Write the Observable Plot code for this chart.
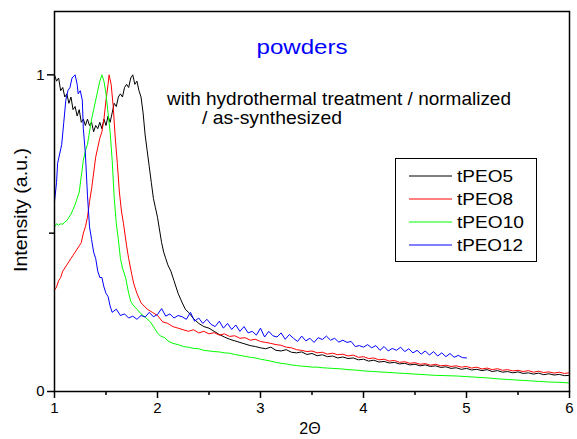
<!DOCTYPE html>
<html><head><meta charset="utf-8">
<script src="https://cdn.jsdelivr.net/npm/d3@7"></script>
<script src="https://cdn.jsdelivr.net/npm/@observablehq/plot@0.6"></script>
<style>body{margin:0;background:#fff} svg{font-family:Arial,"Liberation Sans",sans-serif}</style>
</head><body><div id="chart"></div>
<script>
const seriesNames = ["tPEO5", "tPEO8", "tPEO10", "tPEO12"];
const seriesColors = ["#000000", "#ff0000", "#00ff00", "#0000ff"];

const tPEO5 = [[1.00,1.00],[1.02,0.98],[1.04,0.99],[1.06,0.95],[1.08,0.96],[1.10,0.93],[1.12,0.94],[1.14,0.91],[1.16,0.93],[1.18,0.89],[1.20,0.90],[1.22,0.87],[1.24,0.89],[1.26,0.85],[1.28,0.86],[1.30,0.84],[1.32,0.86],[1.34,0.84],[1.36,0.85],[1.38,0.82],[1.40,0.84],[1.42,0.83],[1.44,0.85],[1.46,0.83],[1.48,0.86],[1.50,0.84],[1.52,0.87],[1.54,0.85],[1.56,0.88],[1.58,0.91],[1.60,0.90],[1.62,0.93],[1.64,0.94],[1.66,0.93],[1.68,0.96],[1.70,0.97],[1.72,0.96],[1.74,0.99],[1.76,1.00],[1.78,0.97],[1.80,0.98],[1.82,0.95],[1.84,0.93],[1.86,0.88],[1.88,0.81],[1.90,0.76],[1.92,0.71],[1.94,0.66],[1.96,0.61],[1.98,0.58],[2.00,0.55],[2.02,0.51],[2.04,0.47],[2.06,0.44],[2.08,0.42],[2.10,0.40],[2.13,0.38],[2.16,0.35],[2.20,0.31],[2.24,0.28],[2.27,0.26],[2.30,0.25],[2.35,0.23],[2.40,0.215],[2.45,0.205],[2.50,0.20],[2.55,0.19],[2.60,0.18],[2.65,0.172],[2.70,0.165],[2.75,0.16],[2.80,0.155],[2.85,0.15],[2.90,0.145],[2.95,0.142],[3.00,0.138],[3.05,0.135],[3.10,0.14],[3.15,0.13],[3.20,0.128],[3.25,0.132],[3.30,0.124],[3.35,0.122],[3.40,0.125],[3.45,0.117],[3.50,0.12],[3.55,0.113],[3.60,0.116],[3.65,0.11],[3.70,0.112],[3.75,0.106],[3.80,0.109],[3.85,0.104],[3.90,0.106],[3.95,0.10],[4.00,0.102],[4.05,0.096],[4.10,0.099],[4.15,0.093],[4.20,0.095],[4.25,0.09],[4.30,0.092],[4.35,0.087],[4.40,0.089],[4.45,0.084],[4.50,0.086],[4.55,0.081],[4.60,0.084],[4.65,0.079],[4.70,0.081],[4.75,0.076],[4.80,0.078],[4.85,0.073],[4.90,0.075],[4.95,0.07],[5.00,0.073],[5.05,0.068],[5.10,0.07],[5.15,0.066],[5.20,0.069],[5.25,0.063],[5.30,0.066],[5.35,0.061],[5.40,0.063],[5.45,0.059],[5.50,0.062],[5.55,0.057],[5.60,0.059],[5.65,0.055],[5.70,0.058],[5.75,0.053],[5.80,0.056],[5.85,0.052],[5.90,0.054],[5.95,0.05],[6.00,0.051]];

const tPEO8 = [[1.00,0.32],[1.02,0.33],[1.04,0.35],[1.06,0.36],[1.08,0.38],[1.10,0.39],[1.12,0.40],[1.14,0.41],[1.16,0.42],[1.18,0.43],[1.20,0.44],[1.22,0.45],[1.24,0.46],[1.26,0.47],[1.28,0.50],[1.30,0.52],[1.32,0.55],[1.34,0.60],[1.36,0.64],[1.38,0.69],[1.40,0.74],[1.42,0.77],[1.44,0.80],[1.46,0.82],[1.48,0.86],[1.50,0.92],[1.52,0.97],[1.53,1.00],[1.55,0.97],[1.57,0.90],[1.59,0.80],[1.61,0.72],[1.63,0.63],[1.65,0.57],[1.67,0.53],[1.70,0.46],[1.72,0.42],[1.75,0.37],[1.77,0.34],[1.80,0.31],[1.84,0.28],[1.87,0.27],[1.90,0.26],[1.95,0.25],[2.00,0.24],[2.05,0.22],[2.10,0.215],[2.15,0.205],[2.20,0.20],[2.25,0.195],[2.30,0.19],[2.35,0.195],[2.40,0.185],[2.45,0.19],[2.50,0.182],[2.55,0.186],[2.60,0.178],[2.65,0.182],[2.70,0.174],[2.75,0.176],[2.80,0.168],[2.85,0.17],[2.90,0.162],[2.95,0.165],[3.00,0.158],[3.05,0.155],[3.10,0.152],[3.15,0.148],[3.20,0.146],[3.25,0.14],[3.30,0.138],[3.35,0.132],[3.40,0.13],[3.45,0.126],[3.50,0.128],[3.55,0.122],[3.60,0.124],[3.65,0.118],[3.70,0.121],[3.75,0.116],[3.80,0.118],[3.85,0.112],[3.90,0.115],[3.95,0.108],[4.00,0.11],[4.05,0.104],[4.10,0.106],[4.15,0.10],[4.20,0.102],[4.25,0.096],[4.30,0.098],[4.35,0.092],[4.40,0.094],[4.45,0.089],[4.50,0.091],[4.55,0.086],[4.60,0.088],[4.65,0.083],[4.70,0.086],[4.75,0.081],[4.80,0.083],[4.85,0.079],[4.90,0.081],[4.95,0.077],[5.00,0.079],[5.05,0.074],[5.10,0.077],[5.15,0.071],[5.20,0.074],[5.25,0.069],[5.30,0.072],[5.35,0.067],[5.40,0.069],[5.45,0.065],[5.50,0.067],[5.55,0.063],[5.60,0.066],[5.65,0.061],[5.70,0.064],[5.75,0.06],[5.80,0.062],[5.85,0.058],[5.90,0.061],[5.95,0.057],[6.00,0.059]];

const tPEO10 = [[1.00,0.52],[1.02,0.53],[1.04,0.525],[1.06,0.53],[1.08,0.528],[1.10,0.535],[1.12,0.54],[1.14,0.55],[1.16,0.56],[1.18,0.575],[1.20,0.59],[1.22,0.61],[1.24,0.63],[1.26,0.68],[1.28,0.73],[1.30,0.76],[1.32,0.78],[1.34,0.82],[1.36,0.86],[1.38,0.89],[1.40,0.92],[1.42,0.95],[1.44,0.98],[1.46,1.00],[1.48,0.98],[1.50,0.94],[1.52,0.88],[1.54,0.82],[1.56,0.73],[1.58,0.61],[1.60,0.53],[1.62,0.48],[1.64,0.42],[1.66,0.39],[1.69,0.36],[1.72,0.31],[1.74,0.285],[1.77,0.27],[1.80,0.26],[1.84,0.245],[1.88,0.235],[1.93,0.22],[1.97,0.20],[2.00,0.185],[2.03,0.175],[2.07,0.17],[2.10,0.16],[2.15,0.152],[2.20,0.148],[2.25,0.142],[2.30,0.14],[2.35,0.136],[2.40,0.135],[2.45,0.13],[2.50,0.128],[2.55,0.126],[2.60,0.125],[2.65,0.122],[2.70,0.121],[2.75,0.117],[2.80,0.114],[2.85,0.111],[2.90,0.108],[2.95,0.106],[3.00,0.102],[3.05,0.099],[3.10,0.096],[3.15,0.092],[3.20,0.089],[3.25,0.087],[3.30,0.084],[3.35,0.082],[3.40,0.08],[3.45,0.079],[3.50,0.077],[3.55,0.077],[3.60,0.075],[3.65,0.074],[3.70,0.073],[3.75,0.072],[3.80,0.071],[3.85,0.069],[3.90,0.068],[3.95,0.067],[4.00,0.065],[4.10,0.063],[4.20,0.061],[4.30,0.059],[4.40,0.057],[4.50,0.055],[4.60,0.053],[4.70,0.051],[4.80,0.05],[4.90,0.049],[5.00,0.047],[5.10,0.045],[5.20,0.043],[5.30,0.04],[5.40,0.038],[5.50,0.036],[5.60,0.034],[5.70,0.032],[5.80,0.03],[5.90,0.029],[6.00,0.027]];

const tPEO12 = [[1.00,0.60],[1.02,0.66],[1.03,0.72],[1.05,0.75],[1.07,0.78],[1.09,0.85],[1.11,0.92],[1.13,0.95],[1.15,0.96],[1.17,0.99],[1.20,1.00],[1.22,0.97],[1.23,0.94],[1.25,0.95],[1.27,0.92],[1.28,0.83],[1.30,0.75],[1.32,0.62],[1.34,0.52],[1.36,0.48],[1.38,0.44],[1.40,0.42],[1.42,0.38],[1.44,0.36],[1.46,0.36],[1.48,0.33],[1.50,0.31],[1.52,0.30],[1.54,0.27],[1.56,0.25],[1.60,0.26],[1.64,0.24],[1.68,0.245],[1.72,0.232],[1.76,0.238],[1.80,0.228],[1.84,0.24],[1.88,0.235],[1.92,0.25],[1.96,0.236],[2.00,0.243],[2.04,0.262],[2.08,0.238],[2.12,0.245],[2.16,0.232],[2.20,0.24],[2.24,0.236],[2.28,0.228],[2.32,0.25],[2.36,0.222],[2.40,0.232],[2.44,0.215],[2.48,0.228],[2.52,0.212],[2.56,0.205],[2.60,0.222],[2.64,0.20],[2.68,0.215],[2.72,0.196],[2.76,0.21],[2.80,0.19],[2.84,0.205],[2.88,0.185],[2.92,0.19],[2.96,0.178],[3.00,0.20],[3.04,0.172],[3.08,0.19],[3.12,0.176],[3.16,0.172],[3.20,0.185],[3.24,0.165],[3.28,0.18],[3.32,0.168],[3.36,0.158],[3.40,0.175],[3.44,0.16],[3.48,0.168],[3.52,0.155],[3.56,0.17],[3.60,0.164],[3.64,0.175],[3.68,0.162],[3.72,0.168],[3.76,0.156],[3.80,0.162],[3.84,0.155],[3.88,0.158],[3.92,0.142],[3.96,0.145],[4.00,0.14],[4.04,0.148],[4.08,0.138],[4.12,0.145],[4.16,0.13],[4.20,0.142],[4.24,0.128],[4.28,0.136],[4.32,0.13],[4.36,0.14],[4.40,0.126],[4.44,0.135],[4.48,0.122],[4.52,0.13],[4.56,0.118],[4.60,0.128],[4.64,0.115],[4.68,0.126],[4.72,0.112],[4.76,0.122],[4.80,0.11],[4.84,0.12],[4.88,0.108],[4.92,0.114],[4.96,0.107],[5.00,0.106]];

const xMajorTicks = [1, 2, 3, 4, 5, 6];
const xMinorTicks = [1.5, 2.5, 3.5, 4.5, 5.5];
const yMajorTicks = [0, 1];
const yMinorTicks = [0.5];
const titleText = "powders";
const noteLines = ["with hydrothermal treatment / normalized", "/ as-synthesized"];
const xLabel = "2Θ";
const yLabel = "Intensity (a.u.)";

const data = [];
[tPEO5, tPEO8, tPEO10, tPEO12].forEach((arr, i) =>
  arr.forEach(([x, y]) => data.push({series: seriesNames[i], x, y})));

const FONT = 'Arial, "Liberation Sans", sans-serif';
const plot = Plot.plot({
  width: 577, height: 439,
  marginLeft: 54, marginRight: 8, marginTop: 11, marginBottom: 48,
  style: {fontFamily: FONT, fontSize: "15px", background: "#fff", color: "#000"},
  x: {domain: [1, 6]},
  y: {domain: [0, 1.2]},
  color: {domain: seriesNames, range: seriesColors},
  marks: [
    Plot.line(data, {x: "x", y: "y", z: "series", stroke: "series", strokeWidth: 1}),
    Plot.frame({strokeWidth: 1.5}),
    Plot.axisX({ticks: xMajorTicks, tickSize: 7, tickPadding: 4, tickFormat: d => String(d), strokeWidth: 1.5, label: null, fontSize: 15}),
    Plot.axisX({ticks: xMinorTicks, tickSize: 4, tickFormat: () => "", strokeWidth: 1.5, label: null}),
    Plot.axisY({ticks: yMajorTicks, tickSize: 7, tickPadding: 3, tickFormat: d => String(d), strokeWidth: 1.5, label: null, fontSize: 15}),
    Plot.axisY({ticks: yMinorTicks, tickSize: 5, tickFormat: () => "", strokeWidth: 1.5, label: null})
  ]
});
document.getElementById("chart").appendChild(plot);

const svg = d3.select(plot);
function addText(x, y, str, size, color, anchor, len, rotate) {
  const t = svg.append("text").attr("x", x).attr("y", y)
    .attr("text-anchor", anchor || "start").attr("fill", color || "#000")
    .style("font-size", size + "px").style("font-family", FONT).text(str);
  if (len) t.attr("textLength", len).attr("lengthAdjust", "spacingAndGlyphs");
  if (rotate) t.attr("transform", `rotate(${rotate},${x},${y})`);
  return t;
}
addText(302, 54, titleText, 21, "#0000ff", "middle", 91);
addText(167, 105, noteLines[0], 19, "#000", "start", 344);
addText(202, 124, noteLines[1], 19, "#000", "start", 140);
addText(310, 434, xLabel, 16, "#000", "middle");
addText(27, 210, yLabel, 19, "#000", "middle", 124, -90);

const lg = svg.append("g");
lg.append("rect").attr("x", 395.5).attr("y", 158.5).attr("width", 141).attr("height", 103)
  .attr("fill", "#fff").attr("stroke", "#000").attr("stroke-width", 1);
const legendLens = [56, 56, 67, 66];
seriesNames.forEach((name, i) => {
  const yy = 176 + i * 23;
  lg.append("line").attr("x1", 409).attr("x2", 452).attr("y1", yy).attr("y2", yy)
    .attr("stroke", seriesColors[i]).attr("stroke-width", 1);
  lg.append("text").attr("x", 457).attr("y", yy).attr("dy", "0.36em").attr("text-anchor", "start")
    .attr("textLength", legendLens[i]).attr("lengthAdjust", "spacingAndGlyphs")
    .style("font-size", "17px").style("font-family", FONT).attr("fill", "#000").text(name);
});
</script></body></html>
